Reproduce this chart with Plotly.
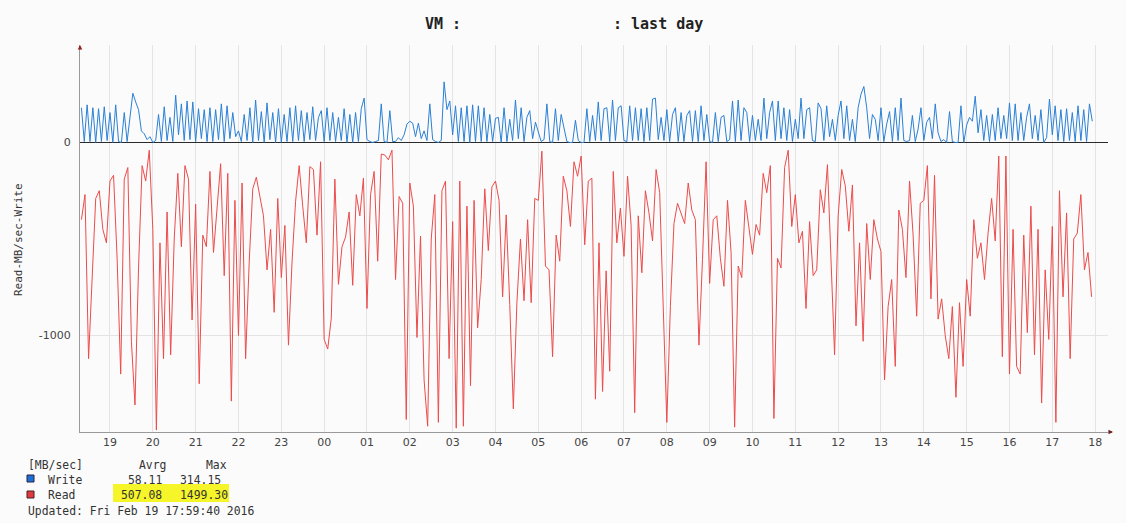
import pandas as pd
import plotly.graph_objects as go

# ---------------- data (MB/sec) ----------------
read_start = "2016-02-18 18:20"   # 5-minute samples
read_vals = [
    400, 270, 1120, 700, 290, 250, 450, 520, 200, 170,
    600, 1200, 190, 130, 1030, 1360, 650, 120, 200, 40,
    450, 1490, 520, 1120, 360, 1100, 500, 160, 540, 120,
    190, 920, 320, 1250, 480, 540, 150, 570, 330, 110,
    690, 160, 1340, 300, 1000, 210, 1120, 620, 240, 180,
    280, 380, 660, 450, 880, 290, 700, 430, 1050, 620,
    305, 120, 330, 520, 125, 140, 480, 100, 1020, 1070,
    910, 190, 735, 540, 490, 360, 740, 270, 380, 185,
    860, 270, 150, 615, 60, 65, 90, 40, 710, 280,
    315, 1435, 210, 330, 1010, 485, 1230, 1470, 500, 270,
    1450, 250, 200, 1120, 410, 1480, 200, 1470, 330, 1260,
    300, 960, 710, 240, 560, 230, 200, 300, 800, 375,
    840, 1380, 830, 500, 820, 400, 830, 290, 300, 45,
    640, 660, 1110, 480, 615, 175, 250, 435, 100, 175,
    70, 530, 200, 185, 1330, 520, 1290, 665, 1185, 150,
    520, 340, 590, 175, 430, 1400, 380, 675, 250, 365,
    510, 140, 260, 900, 1450, 850, 420, 315, 365, 420,
    210, 350, 400, 1050, 605, 100, 730, 400, 380, 600,
    745, 300, 570, 1475, 640, 700, 300, 450, 580, 425,
    480, 160, 260, 120, 1430, 600, 650, 130, 40, 435,
    270, 520, 460, 860, 410, 690, 660, 245, 365, 115,
    605, 1100, 380, 140, 225, 460, 220, 950, 520, 1030,
    420, 710, 400, 500, 565, 1230, 850, 710, 1160, 350,
    450, 700, 200, 480, 900, 315, 300, 120, 810, 170,
    915, 810, 1000, 1120, 850, 1320, 830, 1160, 710, 900,
    400, 600, 520, 710, 470, 290, 510, 70, 1110, 70,
    1200, 450, 1160, 1200, 480, 985, 330, 1100, 450, 1350,
    660, 1020, 435, 1450, 250, 800, 365, 1120, 500, 470,
    270, 660, 570, 800,
]

write_start = "2016-02-18 18:20"  # 4-minute samples
write_vals = [
    180, 5, 195, 5, 180, 0, 175, 5, 185, 10,
    155, 0, 195, 5, 0, 155, 5, 130, 255, 210,
    170, 60, 45, 15, 30, 0, 10, 145, 5, 185,
    10, 130, 5, 245, 40, 200, 10, 215, 15, 210,
    5, 175, 20, 170, 5, 180, 5, 170, 15, 200,
    5, 190, 20, 155, 30, 60, 5, 145, 10, 180,
    0, 220, 10, 160, 0, 205, 15, 155, 0, 175,
    0, 145, 5, 180, 5, 190, 10, 165, 5, 155,
    15, 185, 10, 130, 165, 5, 180, 10, 155, 5,
    130, 10, 175, 0, 145, 0, 155, 5, 175, 230,
    15, 5, 0, 5, 10, 200, 5, 0, 165, 5,
    5, 25, 10, 40, 95, 110, 100, 30, 100, 20,
    60, 10, 200, 15, 5, 0, 10, 314, 170, 215,
    40, 190, 5, 180, 5, 190, 0, 195, 5, 190,
    5, 180, 5, 145, 5, 125, 130, 0, 180, 5,
    120, 10, 220, 20, 180, 5, 130, 165, 20, 105,
    50, 5, 15, 200, 5, 0, 175, 10, 145, 80,
    5, 0, 0, 115, 10, 0, 0, 175, 5, 140,
    10, 210, 10, 175, 180, 5, 220, 10, 180, 190,
    10, 5, 190, 10, 180, 10, 175, 5, 180, 10,
    225, 230, 15, 130, 10, 170, 5, 145, 180, 5,
    155, 5, 140, 165, 5, 165, 5, 190, 10, 145,
    5, 0, 155, 5, 130, 140, 5, 15, 215, 5,
    220, 10, 180, 155, 5, 140, 10, 120, 10, 230,
    20, 155, 215, 10, 215, 20, 180, 10, 170, 5,
    120, 20, 230, 20, 170, 180, 10, 5, 205, 175,
    10, 190, 30, 120, 10, 140, 215, 20, 190, 10,
    120, 5, 180, 250, 290, 180, 20, 145, 120, 10,
    180, 5, 95, 160, 5, 180, 10, 230, 10, 5,
    10, 140, 5, 70, 180, 10, 105, 130, 20, 200,
    50, 5, 15, 0, 160, 5, 0, 0, 190, 0,
    90, 130, 110, 240, 50, 170, 10, 140, 5, 145,
    10, 180, 20, 140, 20, 205, 10, 200, 10, 155,
    10, 130, 200, 20, 140, 10, 170, 0, 25, 225,
    40, 190, 10, 170, 5, 175, 10, 155, 5, 190,
    10, 170, 5, 200, 110,
]

y_tick_vals = [0, -1000]
y_tick_text = ["0", "-1000"]
x_range = ["2016-02-18 18:18", "2016-02-19 18:18"]

stats_header = ["[MB/sec]", "Avrg", "Max"]
write_stats = ["Write", "58.11", "314.15"]
read_stats = ["Read", "507.08", "1499.30"]
updated_text = "Updated: Fri Feb 19 17:59:40 2016"
title_left = "VM :"
title_right = ": last day"
y_title = "Read-MB/sec-Write"

# ---------------- figure ----------------
read_times = pd.date_range(read_start, periods=len(read_vals), freq="5min")
write_times = pd.date_range(write_start, periods=len(write_vals), freq="4min")

W, H = 1126, 523
L, R, T, B = 80, 1108, 45, 432


def px(x):
    return (x - L) / (R - L)


def py(y):
    return (B - y) / (B - T)


MONO = "DejaVu Sans Mono"
SANS = "DejaVu Sans"
TXT = "#333333"

fig = go.Figure()
fig.add_trace(go.Scatter(x=read_times, y=[-v for v in read_vals], mode="lines",
                         line=dict(color="#ec4b4b", width=1), name="Read",
                         showlegend=False))
fig.add_trace(go.Scatter(x=write_times, y=write_vals, mode="lines",
                         line=dict(color="#2a80d6", width=1), name="Write",
                         showlegend=False))

fig.update_layout(
    width=W, height=H,
    margin=dict(l=L, r=W - R, t=T, b=H - B),
    paper_bgcolor="#fbfbfb", plot_bgcolor="#fbfbfb",
    showlegend=False,
    xaxis=dict(
        type="date", range=x_range,
        tick0="2016-02-18 19:00", dtick=3600000, tickformat="%H",
        showgrid=True, gridcolor="#e4e4e4", gridwidth=1,
        showline=True, linecolor="#9a9a9a", linewidth=1,
        ticks="", tickfont=dict(family=SANS, size=11, color="#444"),
        zeroline=False,
    ),
    yaxis=dict(
        range=[-1500, 505], tickvals=y_tick_vals, ticktext=y_tick_text,
        showgrid=True, gridcolor="#e4e4e4", gridwidth=1,
        zeroline=True, zerolinecolor="#2a2a2a", zerolinewidth=1,
        showline=True, linecolor="#9a9a9a", linewidth=1,
        ticks="", ticklabelstandoff=6,
        tickfont=dict(family=SANS, size=11, color="#444"),
    ),
)

ann = []
# title
ann.append(dict(x=px(423), y=py(24), xref="paper", yref="paper", text=f"<b>{title_left}</b>",
                showarrow=False, xanchor="left", yanchor="middle",
                font=dict(family=MONO, size=15, color="#222")))
ann.append(dict(x=px(611), y=py(24), xref="paper", yref="paper", text=f"<b>{title_right}</b>",
                showarrow=False, xanchor="left", yanchor="middle",
                font=dict(family=MONO, size=15, color="#222")))
# y title
ann.append(dict(x=px(18), y=py(240), xref="paper", yref="paper", text=y_title,
                textangle=-90, showarrow=False, xanchor="center", yanchor="middle",
                font=dict(family=MONO, size=11, color=TXT)))
# axis arrows
ann.append(dict(x=0, y=1, xref="paper", yref="paper", ax=0, ay=6, text="",
                showarrow=True, arrowhead=2, arrowsize=0.9, arrowwidth=1, arrowcolor="#9a2020"))
ann.append(dict(x=px(1113), y=0, xref="paper", yref="paper", ax=-6, ay=0, text="",
                showarrow=True, arrowhead=2, arrowsize=0.9, arrowwidth=1, arrowcolor="#6a2020"))

# legend block
shapes = []
shapes.append(dict(type="rect", xref="paper", yref="paper", x0=px(113), x1=px(229),
                   y0=py(502), y1=py(484), fillcolor="#f6f52a", line=dict(width=0), layer="below"))
shapes.append(dict(type="rect", xref="paper", yref="paper", x0=px(27), x1=px(34),
                   y0=py(482), y1=py(475), fillcolor="#1e6fd3", line=dict(color="#224", width=1)))
shapes.append(dict(type="rect", xref="paper", yref="paper", x0=px(27), x1=px(34),
                   y0=py(498), y1=py(491), fillcolor="#e0393e", line=dict(color="#422", width=1)))


def txt(x, y, s):
    ann.append(dict(x=px(x), y=py(y), xref="paper", yref="paper", text=s, showarrow=False,
                    xanchor="left", yanchor="middle",
                    font=dict(family=MONO, size=11.4, color=TXT)))


txt(26, 465, stats_header[0])
txt(137, 465, stats_header[1])
txt(204, 465, stats_header[2])
txt(46, 479.5, write_stats[0])
txt(126, 479.5, write_stats[1])
txt(178, 479.5, write_stats[2])
txt(46, 495, read_stats[0])
txt(119, 495, read_stats[1])
txt(178, 495, read_stats[2])
txt(26, 510.5, updated_text)

fig.update_layout(annotations=ann, shapes=shapes)
fig.write_html("out.html")
